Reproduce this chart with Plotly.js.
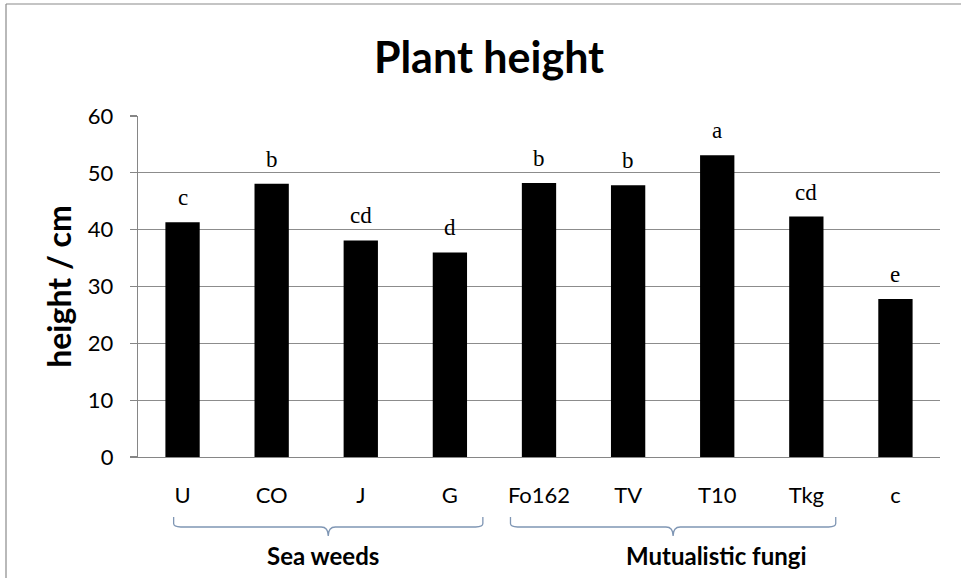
<!DOCTYPE html>
<html>
<head>
<meta charset="utf-8">
<script src="https://cdn.plot.ly/plotly-3.0.1.min.js"></script>
<style>
  html, body { margin: 0; padding: 0; background: #fff; }
  #chart { width: 961px; height: 578px; }
</style>
</head>
<body>
<div id="chart"></div>
<script>
// ---- data ----
const categories = ["U", "CO", "J", "G", "Fo162", "TV", "T10", "Tkg", "c"];
const heights = [41.3, 48.1, 38.1, 36.0, 48.2, 47.8, 53.1, 42.3, 27.8];
const letters = ["c", "b", "cd", "d", "b", "b", "a", "cd", "e"];
const groupNames = ["Sea weeds", "Mutualistic fungi"];
const groupStart = [0, 4];   // first category index of each group
const groupEnd = [3, 7];     // last category index of each group
const yTicks = [0, 10, 20, 30, 40, 50, 60];

// ---- layout helpers ----
const L = 138, R = 961 - 940, T = 116, B = 578 - 457;
const plotW = 961 - L - R, plotH = 578 - T - B;
const py = p => (457 - p) / plotH;      // pixel y -> paper y
const px = p => (p - L) / plotW;        // pixel x -> paper x

const braceColor = "#7f96b4";
const shapes = [];
const annotations = [];

// letters above bars
categories.forEach((c, i) => {
  annotations.push({
    x: c, y: heights[i], xref: "x", yref: "y",
    text: letters[i], showarrow: false,
    yanchor: "bottom", yshift: 10,
    font: { family: "Liberation Serif, Times New Roman, serif", size: 23, color: "#000" }
  });
});

// group braces and labels
const braceLeftPad = [-0.1, -0.32];
const braceRightPad = [0.37, 0.33];
const labelOffset = [-0.06, 0.49];
groupNames.forEach((name, g) => {
  const x0 = groupStart[g] + braceLeftPad[g];
  const x1 = groupEnd[g] + braceRightPad[g];
  const xm = (x0 + x1) / 2;
  const yTop = py(517), yMid = py(527), yTip = py(536);
  const r = 0.08;
  const path =
    `M ${x0} ${yTop} L ${x0} ${yMid + 0.01} Q ${x0} ${yMid} ${x0 + r} ${yMid} ` +
    `L ${xm - r} ${yMid} Q ${xm} ${yMid} ${xm} ${yTip} ` +
    `Q ${xm} ${yMid} ${xm + r} ${yMid} L ${x1 - r} ${yMid} ` +
    `Q ${x1} ${yMid} ${x1} ${yMid + 0.01} L ${x1} ${yTop}`;
  shapes.push({
    type: "path", xref: "x", yref: "paper", path: path,
    line: { color: braceColor, width: 1.3 }
  });
  annotations.push({
    x: xm + labelOffset[g], y: py(555), xref: "x", yref: "paper",
    text: "<b>" + name + "</b>", showarrow: false,
    xanchor: "center", yanchor: "middle",
    font: { family: "Lato, Carlito, Calibri, sans-serif", size: 24, color: "#000" }
  });
});

// outer chart frame (Excel chart area border)
shapes.push({
  type: "line", xref: "paper", yref: "paper",
  x0: px(6), x1: px(6), y0: py(4), y1: py(590),
  line: { color: "#8a8a8a", width: 1.2 }
});
shapes.push({
  type: "line", xref: "paper", yref: "paper",
  x0: px(6), x1: px(980), y0: py(4), y1: py(4),
  line: { color: "#8a8a8a", width: 1.2 }
});

const trace = {
  type: "bar",
  x: categories,
  y: heights,
  marker: { color: "#000000", line: { width: 0 } },
  hoverinfo: "x+y"
};

const layout = {
  width: 961, height: 578,
  margin: { l: L, r: R, t: T, b: B },
  paper_bgcolor: "#ffffff",
  plot_bgcolor: "#ffffff",
  showlegend: false,
  bargap: 0.615,
  title: {
    text: "<b>Plant height</b>",
    x: 489 / 961, xref: "container", xanchor: "center",
    y: 1 - 58 / 578, yref: "container", yanchor: "middle",
    font: { family: "Lato, Carlito, Calibri, sans-serif", size: 43, color: "#000" }
  },
  xaxis: {
    type: "category",
    range: [-0.5, 8.5],
    showgrid: false,
    showline: true, linecolor: "#868686", linewidth: 1.2,
    ticks: "",
    ticklabelstandoff: 18,
    tickfont: { family: "Lato, Carlito, Calibri, sans-serif", size: 22, color: "#000" },
    fixedrange: true
  },
  yaxis: {
    range: [0, 60],
    tickvals: yTicks,
    ticktext: yTicks.map(String),
    showgrid: true, gridcolor: "#8c8c8c", gridwidth: 1.2,
    showline: true, linecolor: "#868686", linewidth: 1.2,
    ticks: "outside", ticklen: 7, tickcolor: "#868686", tickwidth: 1.2,
    ticklabelstandoff: 12,
    zeroline: false,
    tickfont: { family: "Lato, Carlito, Calibri, sans-serif", size: 22, color: "#000" },
    title: {
      text: "<b>height / cm</b>",
      standoff: 6,
      font: { family: "Lato, Carlito, Calibri, sans-serif", size: 32, color: "#000" }
    },
    fixedrange: true
  },
  shapes: shapes,
  annotations: annotations
};

Plotly.newPlot("chart", [trace], layout, { displayModeBar: false, staticPlot: true });
</script>
</body>
</html>
